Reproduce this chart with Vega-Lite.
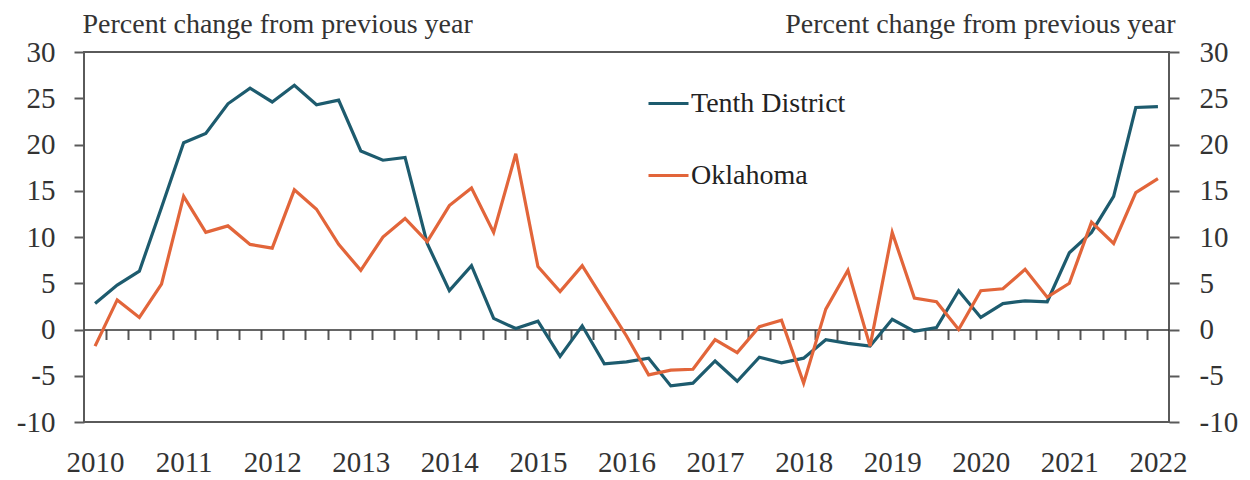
{
  "$schema": "https://vega.github.io/schema/vega-lite/v6.json",
  "width": 1085,
  "height": 370,
  "autosize": "none",
  "padding": {"left": 84, "top": 52, "right": 81, "bottom": 58},
  "background": "white",
  "config": {
    "view": {"stroke": "#5a5a5a", "strokeWidth": 2},
    "font": "Liberation Serif"
  },
  "data": {
    "values": [
      {"t": 2010.00, "Tenth District": 2.8, "Oklahoma": -1.8},
      {"t": 2010.25, "Tenth District": 4.8, "Oklahoma": 3.2},
      {"t": 2010.50, "Tenth District": 6.3, "Oklahoma": 1.3},
      {"t": 2010.75, "Tenth District": 13.2, "Oklahoma": 4.9},
      {"t": 2011.00, "Tenth District": 20.2, "Oklahoma": 14.4},
      {"t": 2011.25, "Tenth District": 21.2, "Oklahoma": 10.5},
      {"t": 2011.50, "Tenth District": 24.4, "Oklahoma": 11.2},
      {"t": 2011.75, "Tenth District": 26.1, "Oklahoma": 9.2},
      {"t": 2012.00, "Tenth District": 24.6, "Oklahoma": 8.8},
      {"t": 2012.25, "Tenth District": 26.4, "Oklahoma": 15.1},
      {"t": 2012.50, "Tenth District": 24.3, "Oklahoma": 13.0},
      {"t": 2012.75, "Tenth District": 24.8, "Oklahoma": 9.2},
      {"t": 2013.00, "Tenth District": 19.3, "Oklahoma": 6.4},
      {"t": 2013.25, "Tenth District": 18.3, "Oklahoma": 10.0},
      {"t": 2013.50, "Tenth District": 18.6, "Oklahoma": 12.0},
      {"t": 2013.75, "Tenth District": 9.3, "Oklahoma": 9.5},
      {"t": 2014.00, "Tenth District": 4.2, "Oklahoma": 13.4},
      {"t": 2014.25, "Tenth District": 6.9, "Oklahoma": 15.3},
      {"t": 2014.50, "Tenth District": 1.2, "Oklahoma": 10.5},
      {"t": 2014.75, "Tenth District": 0.1, "Oklahoma": 19.0},
      {"t": 2015.00, "Tenth District": 0.9, "Oklahoma": 6.8},
      {"t": 2015.25, "Tenth District": -2.9, "Oklahoma": 4.1},
      {"t": 2015.50, "Tenth District": 0.4, "Oklahoma": 6.9},
      {"t": 2015.75, "Tenth District": -3.7, "Oklahoma": 3.1},
      {"t": 2016.00, "Tenth District": -3.5, "Oklahoma": -0.7},
      {"t": 2016.25, "Tenth District": -3.1, "Oklahoma": -4.9},
      {"t": 2016.50, "Tenth District": -6.1, "Oklahoma": -4.4},
      {"t": 2016.75, "Tenth District": -5.8, "Oklahoma": -4.3},
      {"t": 2017.00, "Tenth District": -3.4, "Oklahoma": -1.1},
      {"t": 2017.25, "Tenth District": -5.6, "Oklahoma": -2.5},
      {"t": 2017.50, "Tenth District": -3.0, "Oklahoma": 0.3},
      {"t": 2017.75, "Tenth District": -3.6, "Oklahoma": 1.0},
      {"t": 2018.00, "Tenth District": -3.1, "Oklahoma": -5.8},
      {"t": 2018.25, "Tenth District": -1.1, "Oklahoma": 2.2},
      {"t": 2018.50, "Tenth District": -1.5, "Oklahoma": 6.4},
      {"t": 2018.75, "Tenth District": -1.8, "Oklahoma": -1.8},
      {"t": 2019.00, "Tenth District": 1.1, "Oklahoma": 10.5},
      {"t": 2019.25, "Tenth District": -0.2, "Oklahoma": 3.4},
      {"t": 2019.50, "Tenth District": 0.2, "Oklahoma": 3.0},
      {"t": 2019.75, "Tenth District": 4.2, "Oklahoma": 0.0},
      {"t": 2020.00, "Tenth District": 1.3, "Oklahoma": 4.2},
      {"t": 2020.25, "Tenth District": 2.8, "Oklahoma": 4.4},
      {"t": 2020.50, "Tenth District": 3.1, "Oklahoma": 6.5},
      {"t": 2020.75, "Tenth District": 3.0, "Oklahoma": 3.5},
      {"t": 2021.00, "Tenth District": 8.3, "Oklahoma": 5.0},
      {"t": 2021.25, "Tenth District": 10.5, "Oklahoma": 11.6},
      {"t": 2021.50, "Tenth District": 14.4, "Oklahoma": 9.3},
      {"t": 2021.75, "Tenth District": 24.0, "Oklahoma": 14.8},
      {"t": 2022.00, "Tenth District": 24.1, "Oklahoma": 16.3}
    ]
  },
  "transform": [{"fold": ["Tenth District", "Oklahoma"], "as": ["series", "value"]}],
  "layer": [
    {
      "mark": {"type": "line", "strokeWidth": 3.2},
      "encoding": {
        "x": {
          "field": "t", "type": "quantitative",
          "scale": {"domain": [2009.875, 2022.125], "nice": false, "zero": false},
          "axis": {
            "orient": "bottom", "offset": -92.5, "zindex": 0,
            "title": null, "labels": false, "grid": false,
            "domain": true, "domainColor": "#333333", "domainWidth": 1.5,
            "ticks": true, "tickSize": 10, "tickWidth": 2, "tickColor": "#555555",
            "values": [2010.125, 2010.375, 2010.625, 2010.875, 2011.125, 2011.375, 2011.625, 2011.875, 2012.125, 2012.375, 2012.625, 2012.875, 2013.125, 2013.375, 2013.625, 2013.875, 2014.125, 2014.375, 2014.625, 2014.875, 2015.125, 2015.375, 2015.625, 2015.875, 2016.125, 2016.375, 2016.625, 2016.875, 2017.125, 2017.375, 2017.625, 2017.875, 2018.125, 2018.375, 2018.625, 2018.875, 2019.125, 2019.375, 2019.625, 2019.875, 2020.125, 2020.375, 2020.625, 2020.875, 2021.125, 2021.375, 2021.625, 2021.875]
          }
        },
        "y": {
          "field": "value", "type": "quantitative",
          "scale": {"domain": [-10, 30], "nice": false, "zero": false},
          "axis": {
            "orient": "left", "zindex": 0, "grid": false, "domain": false,
            "values": [-10, -5, 0, 5, 10, 15, 20, 25, 30],
            "labelExpr": "'' + datum.value",
            "tickSize": 10, "tickWidth": 2, "tickColor": "#5a5a5a",
            "labelPadding": 19, "labelFontSize": 29, "labelColor": "#333333", "labelFont": "Liberation Serif",
            "title": "Percent change from previous year",
            "titleAngle": 0, "titleAlign": "left", "titleBaseline": "alphabetic",
            "titleX": -2, "titleY": -20, "titleFontSize": 28, "titleFontWeight": "normal",
            "titleColor": "#333333", "titleFont": "Liberation Serif"
          }
        },
        "color": {
          "field": "series", "type": "nominal",
          "scale": {"domain": ["Tenth District", "Oklahoma"], "range": ["#1d5b6e", "#e2653a"]},
          "legend": {
            "orient": "none", "legendX": 563, "legendY": 30, "title": null, "padding": 0,
            "symbolType": "stroke", "symbolSize": 1600, "symbolStrokeWidth": 3,
            "labelFontSize": 28, "labelColor": "#222222", "labelFont": "Liberation Serif",
            "labelOffset": 1, "rowPadding": 36
          }
        }
      }
    },
    {
      "mark": {"type": "line", "opacity": 0, "strokeOpacity": 0},
      "encoding": {
        "x": {
          "field": "t", "type": "quantitative",
          "axis": {
            "orient": "bottom", "zindex": 0, "title": null, "grid": false,
            "domain": false, "ticks": false, "tickSize": 0,
            "values": [2010, 2011, 2012, 2013, 2014, 2015, 2016, 2017, 2018, 2019, 2020, 2021, 2022],
            "format": "d", "labelPadding": 26, "labelFontSize": 29, "labelColor": "#333333",
            "labelFont": "Liberation Serif"
          }
        },
        "y": {
          "field": "value", "type": "quantitative",
          "axis": {
            "orient": "right", "zindex": 0, "grid": false, "domain": false,
            "values": [-10, -5, 0, 5, 10, 15, 20, 25, 30],
            "labelExpr": "'' + datum.value",
            "tickSize": 10, "tickWidth": 2, "tickColor": "#5a5a5a",
            "labelPadding": 20, "labelFontSize": 29, "labelColor": "#333333", "labelFont": "Liberation Serif",
            "title": "Percent change from previous year",
            "titleAngle": 0, "titleAlign": "right", "titleBaseline": "alphabetic",
            "titleX": 6, "titleY": -20, "titleFontSize": 28, "titleFontWeight": "normal",
            "titleColor": "#333333", "titleFont": "Liberation Serif"
          }
        }
      }
    }
  ],
  "resolve": {"axis": {"x": "independent", "y": "independent"}}
}
